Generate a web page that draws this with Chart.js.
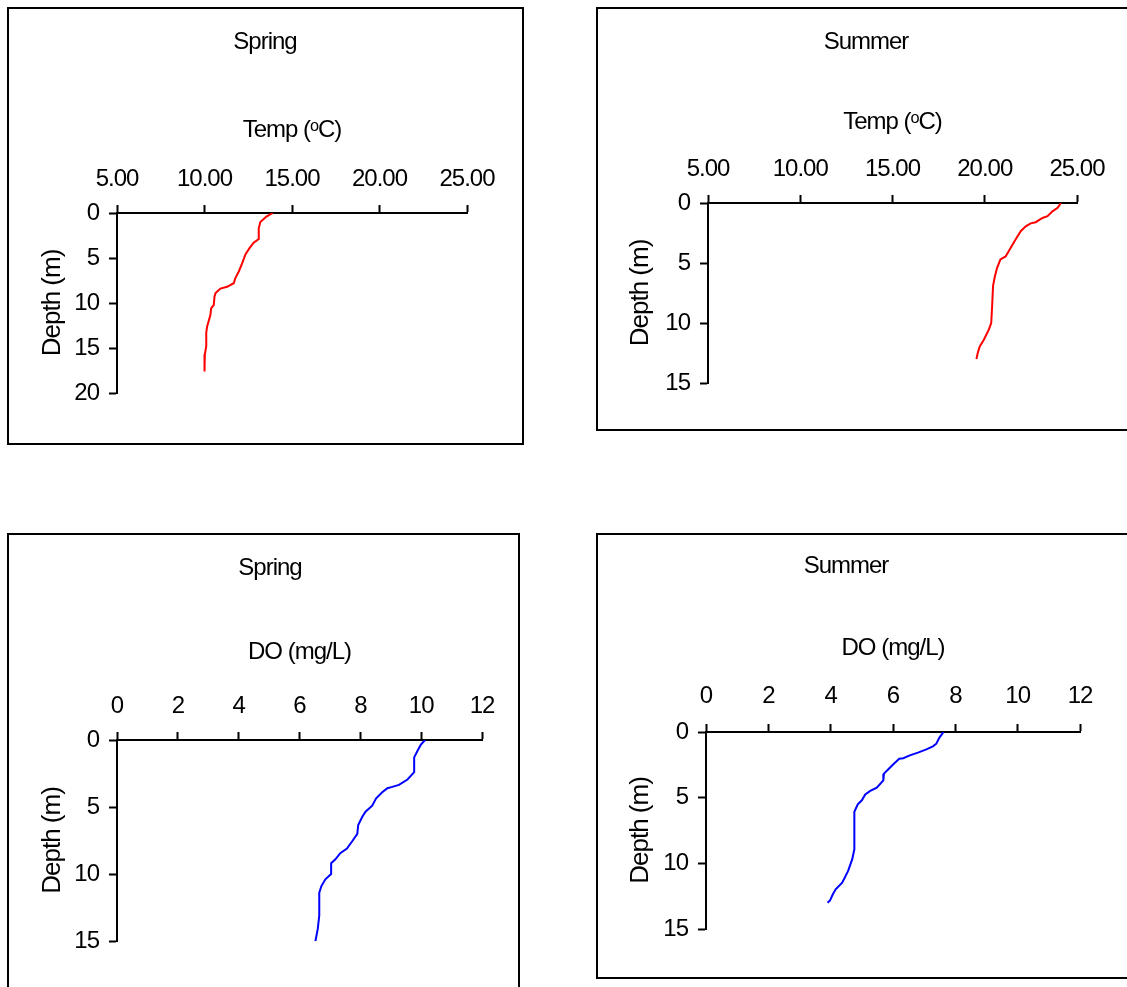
<!DOCTYPE html>
<html lang="en">
<head>
<meta charset="UTF-8">
<title>Depth profiles</title>
<script src="https://cdn.jsdelivr.net/npm/chart.js"></script>
<style>
    * { margin: 0; padding: 0; box-sizing: border-box; }
    html, body { width: 1127px; height: 987px; overflow: hidden; background: #fff; }
    .panel { position: absolute; border: 2px solid #000; background: #fff; }
    .panel canvas { display: block; }
</style>
</head>
<body>
<div class="panel" id="p1"><canvas id="c1"></canvas></div>
<div class="panel" id="p2"><canvas id="c2"></canvas></div>
<div class="panel" id="p3"><canvas id="c3"></canvas></div>
<div class="panel" id="p4"><canvas id="c4"></canvas></div>
<script>
// spring temperature profile
var springTempDepth = [0, 0.4, 1.0, 1.7, 2.9, 3.3, 3.9, 4.6, 5.6, 6.5, 7.2, 7.8, 8.2, 8.4, 8.9, 9.3, 10.2, 10.6, 11.3, 12.6, 13.3, 14.8, 15.7, 17.6];
var springTemp      = [13.90, 13.54, 13.19, 13.10, 13.10, 12.81, 12.57, 12.34, 12.15, 11.96, 11.77, 11.67, 11.29, 10.91, 10.63, 10.57, 10.53, 10.38, 10.34, 10.15, 10.10, 10.10, 10.02, 10.00];

// summer temperature profile
var summerTempDepth = [0, 0.4, 0.7, 1.1, 1.25, 1.6, 1.7, 1.95, 2.35, 3.05, 3.75, 4.45, 4.7, 5.4, 6.1, 6.9, 8.6, 10.0, 10.55, 11.4, 11.95, 12.5, 13.0];
var summerTemp      = [24.13, 23.95, 23.67, 23.40, 23.13, 22.76, 22.49, 22.22, 21.95, 21.67, 21.40, 21.13, 20.85, 20.67, 20.55, 20.45, 20.40, 20.35, 20.22, 19.95, 19.73, 19.62, 19.55];

// spring dissolved oxygen profile
var springDODepth = [0, 0.35, 0.8, 1.3, 2.4, 2.95, 3.35, 3.5, 3.6, 3.9, 4.35, 4.9, 5.35, 5.75, 6.35, 7.0, 7.5, 8.1, 8.45, 8.9, 9.2, 10.0, 10.4, 10.9, 11.4, 13.1, 14.1, 15.05];
var springDO      = [10.13, 9.99, 9.88, 9.77, 9.77, 9.55, 9.27, 9.05, 8.89, 8.72, 8.52, 8.39, 8.17, 8.06, 7.93, 7.90, 7.75, 7.56, 7.34, 7.18, 7.04, 7.04, 6.85, 6.72, 6.65, 6.65, 6.60, 6.52];

// summer dissolved oxygen profile
var summerDODepth = [0, 0.43, 0.89, 1.09, 1.32, 1.57, 1.78, 2.0, 2.03, 2.46, 2.84, 3.17, 3.68, 4.24, 4.49, 4.75, 5.2, 5.51, 6.07, 8.93, 9.7, 10.58, 11.47, 11.98, 12.36, 12.82, 13.0];
var summerDO      = [7.62, 7.49, 7.39, 7.28, 7.07, 6.80, 6.54, 6.33, 6.20, 6.01, 5.85, 5.71, 5.69, 5.48, 5.27, 5.11, 5.00, 4.87, 4.76, 4.76, 4.69, 4.56, 4.37, 4.16, 4.07, 3.98, 3.90];

// axis ticks
var tempTicks = [5, 10, 15, 20, 25];
var doTicks = [0, 2, 4, 6, 8, 10, 12];
var depthTicksLong = [0, 5, 10, 15, 20];
var depthTicksShort = [0, 5, 10, 15];

var FONT = 24;
var LH = FONT * 1.2;
var YFONT = 26;          // depth title is drawn a bit wider in the original
var YLH = YFONT * 1.2;
var TICK = 8;
var BORDER = 2;

Chart.defaults.font.family = "'Liberation Sans', Arial, sans-serif";
Chart.defaults.color = '#000';

// the original text is set a little tighter than plain Arial
var tightText = {
    id: 'tightText',
    beforeDraw: function (chart) { chart.ctx.letterSpacing = '-1px'; }
};

// page-pixel layout of each box: box [l,t,r,b], plot area [l,t,r,b], text centres
var panels = [
    { id: 'p1', canvas: 'c1', box: [7, 7, 524, 445], plot: [117, 213, 467, 393], titleX: 265, titleY: 42, axisTitleY: 130, tickY: 179, yTitleX: 53,
      title: 'Spring', xTitle: 'Temp (\u1D52C)', xs: springTemp, ys: springTempDepth, color: '#ff0000', xTicks: tempTicks, yTicks: depthTicksLong, digits: 2 },
    { id: 'p2', canvas: 'c2', box: [596, 7, 1140, 431], plot: [708, 203, 1077, 383], titleX: 866, titleY: 42, axisTitleY: 122, tickY: 169, yTitleX: 641,
      title: 'Summer', xTitle: 'Temp (\u1D52C)', xs: summerTemp, ys: summerTempDepth, color: '#ff0000', xTicks: tempTicks, yTicks: depthTicksShort, digits: 2 },
    { id: 'p3', canvas: 'c3', box: [7, 533, 520, 1000], plot: [117, 740, 482, 941], titleX: 270, titleY: 568, axisTitleY: 652, tickY: 706, yTitleX: 53,
      title: 'Spring', xTitle: 'DO (mg/L)', xs: springDO, ys: springDODepth, color: '#0000ff', xTicks: doTicks, yTicks: depthTicksShort, digits: 0 },
    { id: 'p4', canvas: 'c4', box: [596, 533, 1140, 979], plot: [706, 732, 1080, 929], titleX: 846, titleY: 566, axisTitleY: 648, tickY: 696, yTitleX: 641,
      title: 'Summer', xTitle: 'DO (mg/L)', xs: summerDO, ys: summerDODepth, color: '#0000ff', xTicks: doTicks, yTicks: depthTicksShort, digits: 0 }
];

function drawPanel(p) {
    var el = document.getElementById(p.id);
    el.style.left = p.box[0] + 'px';
    el.style.top = p.box[1] + 'px';
    el.style.width = (p.box[2] - p.box[0]) + 'px';
    el.style.height = (p.box[3] - p.box[1]) + 'px';

    var ox = p.box[0] + BORDER, oy = p.box[1] + BORDER;
    var cw = p.box[2] - p.box[0] - 2 * BORDER;
    var ch = p.box[3] - p.box[1] - 2 * BORDER;
    var canvas = document.getElementById(p.canvas);
    canvas.width = cw;
    canvas.height = ch;

    var plotL = p.plot[0] - ox, plotT = p.plot[1] - oy;
    var plotR = p.plot[2] - ox, plotB = p.plot[3] - oy;
    var padR = cw - plotR;
    // chart title is centred between the layout paddings, so pick the left one to place it
    var padL = 2 * (p.titleX - ox) - cw + padR;

    var titlePad = p.titleY - oy - LH / 2;
    var titleH = titlePad + LH;
    var xH = plotT - titleH;
    var xTitlePad = p.axisTitleY - oy - titleH - LH / 2;
    var xTickPad = plotT - (p.tickY - oy) - LH / 2 - TICK;
    var yTitlePad = p.yTitleX - ox - padL - YLH / 2;

    var points = p.xs.map(function (v, i) { return { x: v, y: p.ys[i] }; });

    var gridOpts = { drawOnChartArea: false, drawTicks: true, tickLength: TICK, tickWidth: 2, tickColor: '#000' };

    new Chart(canvas, {
        type: 'scatter',
        data: {
            datasets: [{
                data: points,
                showLine: true,
                borderColor: p.color,
                backgroundColor: p.color,
                borderWidth: 2,
                pointRadius: 0,
                fill: false,
                tension: 0
            }]
        },
        plugins: [tightText],
        options: {
            responsive: false,
            animation: false,
            layout: { padding: { left: padL, top: 0, right: padR, bottom: ch - plotB } },
            plugins: {
                legend: { display: false },
                tooltip: { enabled: false },
                title: {
                    display: true,
                    text: p.title,
                    color: '#000',
                    font: { size: FONT, weight: 'normal' },
                    padding: { top: titlePad, bottom: 0 }
                }
            },
            scales: {
                x: {
                    type: 'linear',
                    position: 'top',
                    min: p.xTicks[0],
                    max: p.xTicks[p.xTicks.length - 1],
                    ticks: {
                        stepSize: p.xTicks[1] - p.xTicks[0],
                        color: '#000',
                        font: { size: FONT },
                        padding: xTickPad,
                        maxRotation: 0,
                        autoSkip: false,
                        callback: function (v) { return Number(v).toFixed(p.digits); }
                    },
                    grid: gridOpts,
                    border: { display: true, color: '#000', width: 2 },
                    title: {
                        display: true,
                        text: p.xTitle,
                        color: '#000',
                        font: { size: FONT },
                        padding: { top: xTitlePad, bottom: 0 }
                    },
                    afterFit: function (s) { s.height = xH; }
                },
                y: {
                    type: 'linear',
                    position: 'left',
                    reverse: true,
                    min: p.yTicks[0],
                    max: p.yTicks[p.yTicks.length - 1],
                    ticks: {
                        stepSize: p.yTicks[1] - p.yTicks[0],
                        color: '#000',
                        font: { size: FONT },
                        padding: 10
                    },
                    grid: gridOpts,
                    border: { display: true, color: '#000', width: 2 },
                    title: {
                        display: true,
                        text: 'Depth (m)',
                        color: '#000',
                        font: { size: YFONT },
                        padding: { top: yTitlePad, bottom: 0 }
                    },
                    afterFit: function (s) { s.width = plotL - padL; }
                }
            }
        }
    });
}

panels.forEach(drawPanel);
</script>
</body>
</html>
